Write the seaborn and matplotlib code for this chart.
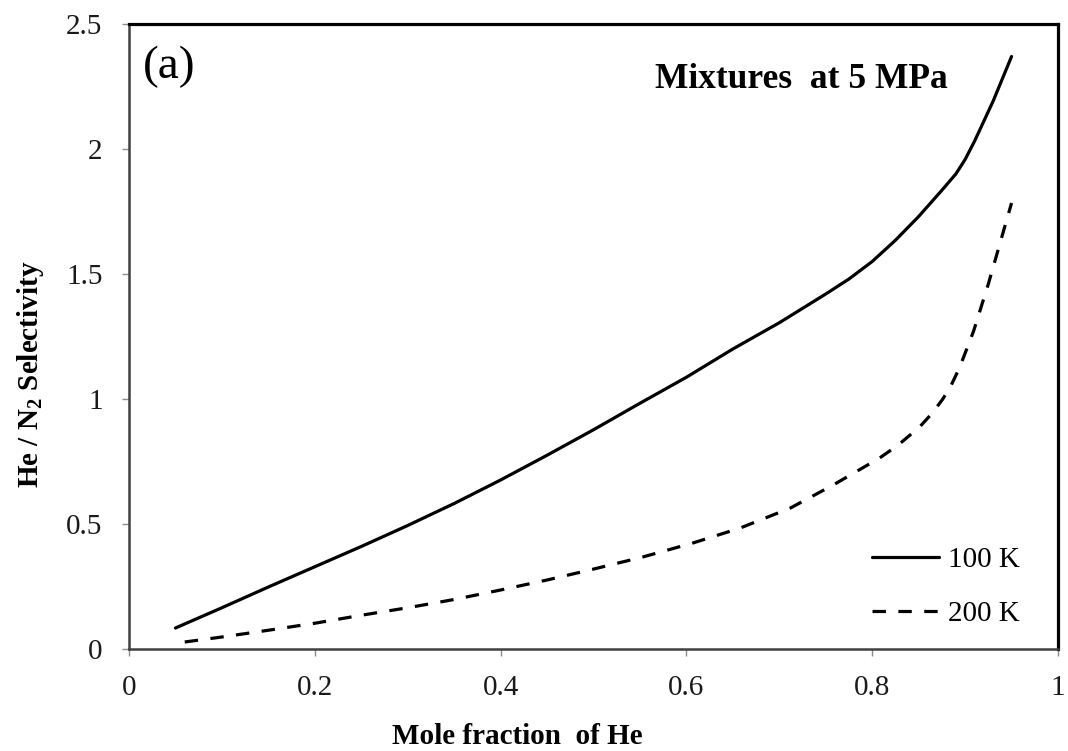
import matplotlib
matplotlib.use("Agg")
import matplotlib.pyplot as plt
import seaborn as sns
import pandas as pd

# ---- data ----
x_100K = [0.05, 0.10, 0.15, 0.20, 0.25, 0.30, 0.35, 0.40, 0.45, 0.50, 0.55, 0.60,
          0.65, 0.70, 0.75, 0.775, 0.80, 0.825, 0.85, 0.875, 0.89, 0.90, 0.91, 0.93, 0.95]
y_100K = [0.084, 0.165, 0.248, 0.329, 0.410, 0.494, 0.582, 0.676, 0.775, 0.877, 0.983, 1.087,
          1.200, 1.305, 1.420, 1.480, 1.550, 1.635, 1.730, 1.835, 1.900, 1.958, 2.030, 2.190, 2.370]

x_200K = [0.06, 0.10, 0.15, 0.20, 0.25, 0.30, 0.35, 0.40, 0.45, 0.496, 0.553, 0.607,
          0.658, 0.712, 0.758, 0.808, 0.828, 0.851, 0.865, 0.876, 0.885, 0.894, 0.909, 0.925, 0.95]
y_200K = [0.028, 0.048, 0.075, 0.103, 0.135, 0.165, 0.198, 0.236, 0.276, 0.316, 0.368, 0.424,
          0.484, 0.564, 0.656, 0.764, 0.816, 0.888, 0.945, 1.000, 1.055, 1.125, 1.270, 1.460, 1.784]

series_labels = ["100 K", "200 K"]
x_ticks = [0, 0.2, 0.4, 0.6, 0.8, 1]
x_tick_labels = ["0", "0.2", "0.4", "0.6", "0.8", "1"]
y_ticks = [0, 0.5, 1, 1.5, 2, 2.5]
y_tick_labels = ["0", "0.5", "1", "1.5", "2", "2.5"]

df1 = pd.DataFrame({"x": x_100K, "y": y_100K})
df2 = pd.DataFrame({"x": x_200K, "y": y_200K})

sns.set_theme(style="white")
plt.rcParams["font.family"] = ["Liberation Serif", "DejaVu Serif"]
plt.rcParams["mathtext.fontset"] = "custom"
plt.rcParams["mathtext.rm"] = "Liberation Serif"
plt.rcParams["mathtext.bf"] = "Liberation Serif:bold"

fig = plt.figure(figsize=(10.68, 7.51), dpi=100)
ax = fig.add_axes([129 / 1068, 102 / 751, 929 / 1068, 625 / 751])

sns.lineplot(data=df1, x="x", y="y", ax=ax, color="black", linewidth=2.3,
             label=series_labels[0], sort=False)
sns.lineplot(data=df2, x="x", y="y", ax=ax, color="black", linewidth=2.3,
             label=series_labels[1], sort=False)
ax.lines[1].set_dashes((4.2, 3.9))
for ln in ax.lines:
    ln.set_solid_joinstyle("round")
    ln.set_dash_joinstyle("round")

ax.set_xlim(0, 1)
ax.set_ylim(0, 2.5)
ax.set_xticks(x_ticks)
ax.set_xticklabels(x_tick_labels)
ax.set_yticks(y_ticks)
ax.set_yticklabels(y_tick_labels)

ax.tick_params(axis="both", which="major", direction="out", length=5, width=1,
               color="#8c8c8c", labelsize=21, labelcolor="#1a1a1a",
               bottom=True, left=True)
ax.tick_params(axis="x", pad=14)
ax.tick_params(axis="y", pad=14)

for side in ["left", "bottom"]:
    ax.spines[side].set_color("#404040")
    ax.spines[side].set_linewidth(1.8)
for side in ["top", "right"]:
    ax.spines[side].set_color("black")
    ax.spines[side].set_linewidth(2.3)

ax.set_xlabel("Mole fraction  of He", fontsize=21, fontweight="bold", color="black")
ax.set_ylabel(r"He / N$_\mathbf{2}$ Selectivity", fontsize=21, fontweight="bold", color="black")
ax.xaxis.label.set_va("center")
ax.yaxis.label.set_va("center")
ax.xaxis.set_label_coords((517 - 129) / 929, (649 - 737) / 625)
ax.yaxis.set_label_coords((31 - 129) / 929, (649 - 374) / 625)

ax.text(0.015, (649 - 78) / 625, "(a)", transform=ax.transAxes, fontsize=34,
        ha="left", va="baseline", color="black")
ax.text((948 - 129) / 929, (649 - 88) / 625, "Mixtures  at 5 MPa", transform=ax.transAxes,
        fontsize=25.5, fontweight="bold", ha="right", va="baseline", color="black")

leg = ax.legend(loc="upper left", bbox_to_anchor=((872 - 129) / 929, (649 - 547) / 625),
                frameon=False, fontsize=21, handlelength=2.28, handletextpad=0.31,
                labelspacing=0.93, borderpad=0, borderaxespad=0)
for t in leg.get_texts():
    t.set_color("black")

fig.savefig("out.png", dpi=100)
